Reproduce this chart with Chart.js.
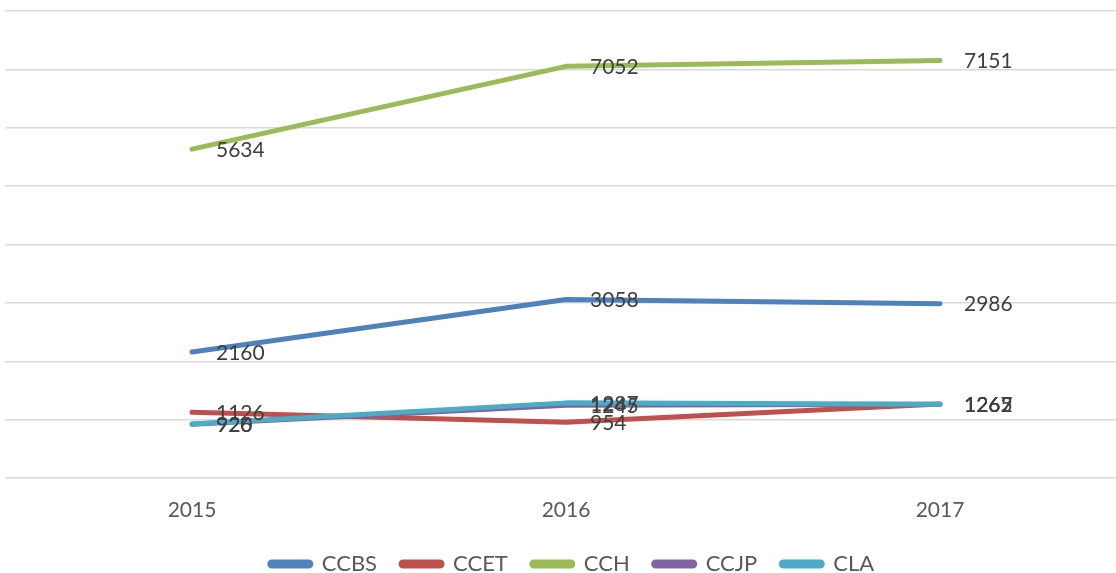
<!DOCTYPE html>
<html>
<head>
<meta charset="utf-8">
<script src="https://cdn.jsdelivr.net/npm/chart.js@4/dist/chart.umd.min.js"></script>
<style>
  html, body { margin: 0; padding: 0; background: #ffffff; overflow: hidden; }
  #wrap { width: 1116px; height: 573px; position: relative; overflow: hidden; }
  #c { position: absolute; left: 0; top: 0; }
</style>
</head>
<body>
<div id="wrap"><canvas id="c" width="1127" height="573"></canvas></div>
<script>
const categories = ["2015", "2016", "2017"];
const seriesNames = ["CCBS", "CCET", "CCH", "CCJP", "CLA"];
const ccbs = [2160, 3058, 2986];
const ccet = [1126, 954, 1267];
const cch  = [5634, 7052, 7151];
const ccjp = [920, 1245, 1262];
const cla  = [926, 1287, 1265];
const seriesValues = [ccbs, ccet, cch, ccjp, cla];
const colors = ["#4F81BD", "#C0504D", "#9BBB59", "#8064A2", "#4BACC6"];

const FONT = "Lato, 'Open Sans', sans-serif";

const datasets = seriesNames.map((n, i) => ({
  label: n,
  data: seriesValues[i],
  borderColor: colors[i],
  backgroundColor: colors[i],
  borderWidth: 5,
  borderCapStyle: 'round',
  borderJoinStyle: 'round',
  pointRadius: 0,
  pointHoverRadius: 0,
  tension: 0,
  order: seriesNames.length - 1 - i
}));

const labelPlugin = {
  id: 'valueLabels',
  afterDatasetsDraw(chart) {
    const ctx = chart.ctx;
    ctx.save();
    ctx.font = "21px " + FONT;
    ctx.fillStyle = "#404040";
    ctx.textAlign = "left";
    ctx.textBaseline = "middle";
    chart.data.datasets.forEach((ds, i) => {
      const meta = chart.getDatasetMeta(i);
      meta.data.forEach((pt, j) => {
        ctx.fillText(String(ds.data[j]), pt.x + 24, pt.y + 1);
      });
    });
    ctx.restore();
  }
};

const legendShift = {
  id: 'legendShift',
  beforeDraw(chart) {
    const lg = chart.legend;
    if (lg && !lg._shifted) {
      lg.left += 6;
      lg.right += 6;
      lg.top += 2;
      lg.bottom += 2;
      lg._shifted = true;
    }
  }
};

new Chart(document.getElementById('c'), {
  type: 'line',
  data: { labels: categories, datasets: datasets },
  options: {
    responsive: false,
    animation: false,
    layout: { padding: { top: 11, left: 5, right: 0, bottom: -10 } },
    plugins: {
      legend: {
        position: 'bottom',
        labels: {
          boxWidth: 41,
          boxHeight: 4,
          useBorderRadius: true,
          borderRadius: 2,
          padding: 24,
          color: "#595959",
          font: { family: FONT, size: 22 },
          sort: (a, b) => a.datasetIndex - b.datasetIndex
        }
      },
      tooltip: { enabled: false }
    },
    scales: {
      x: {
        offset: true,
        grid: { display: false },
        border: { display: false },
        ticks: { color: "#595959", font: { family: FONT, size: 21 }, padding: 12 },
        afterFit(scale) { scale.height = 49; }
      },
      y: {
        min: 0,
        max: 8000,
        ticks: { display: false, stepSize: 1000 },
        border: { display: false },
        grid: { color: "#d9d9d9", lineWidth: 1.5, drawTicks: false }
      }
    }
  },
  plugins: [labelPlugin, legendShift]
});
</script>
</body>
</html>
